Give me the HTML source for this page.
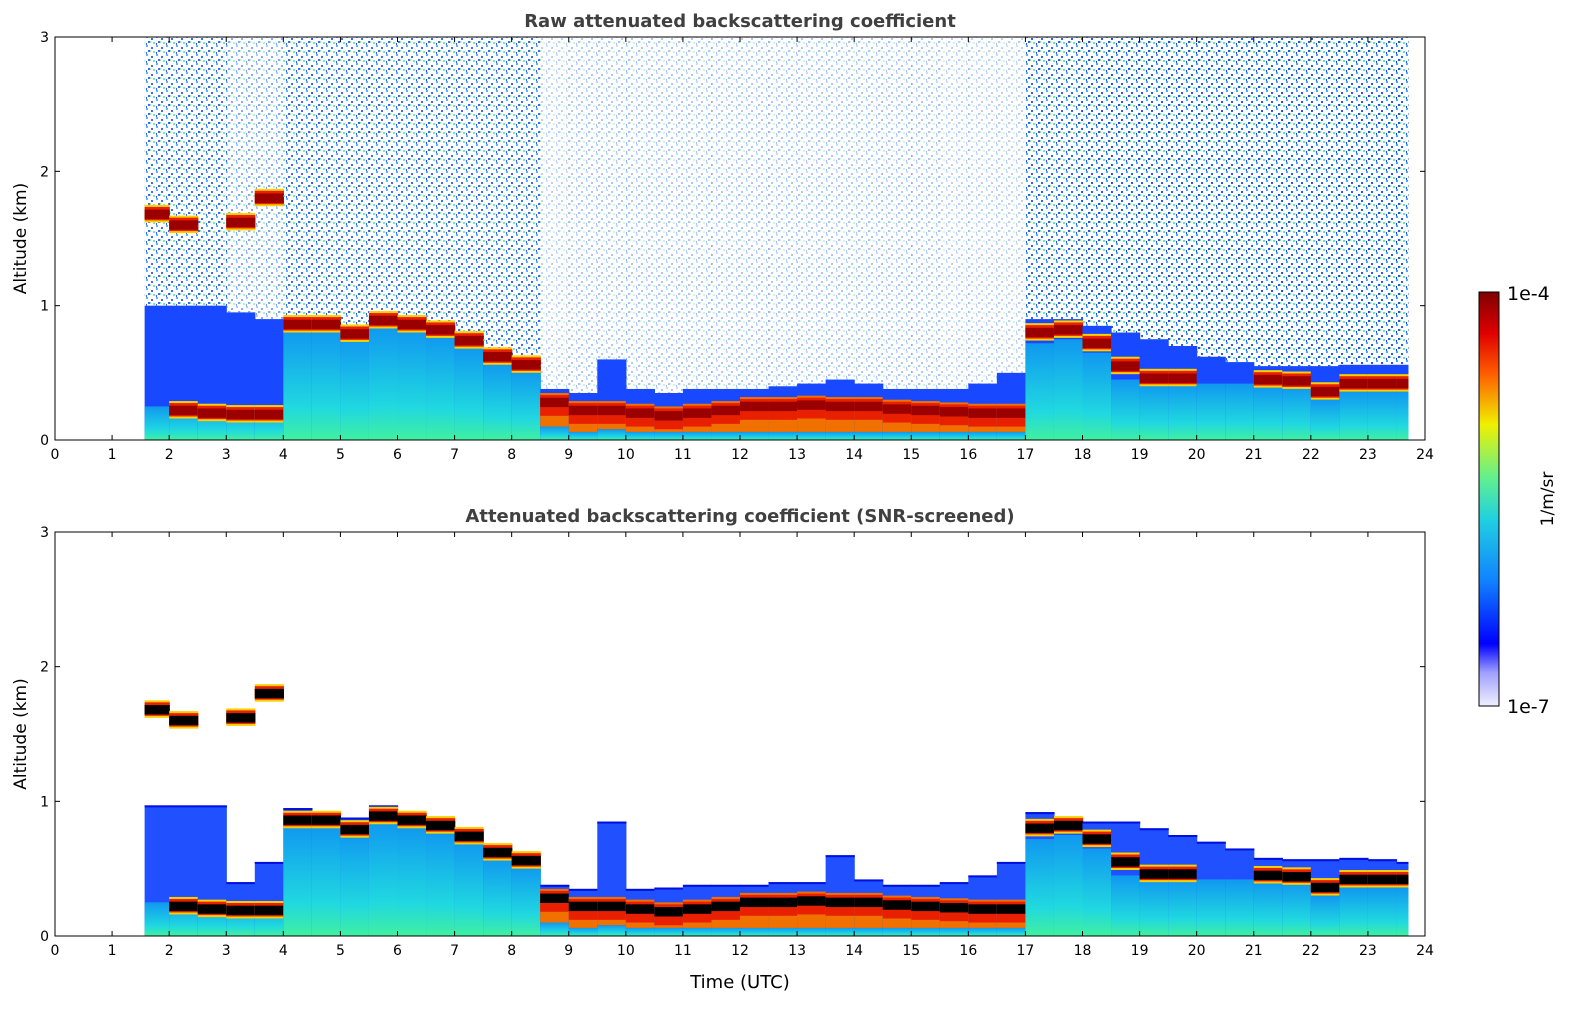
<!DOCTYPE html>
<html><head><meta charset="utf-8">
<style>
body{margin:0;background:#fff;font-family:"Liberation Sans",sans-serif;}
svg text{font-family:"DejaVu Sans","Liberation Sans",sans-serif;}
</style></head>
<body>
<svg id="chart" width="1595" height="1020" xmlns="http://www.w3.org/2000/svg">
<defs>
<pattern id="speck" width="10" height="9" patternUnits="userSpaceOnUse">
<rect x="1" y="2" width="2" height="2" fill="#1030ff"/><rect x="6" y="0" width="2" height="2" fill="#20a0ff"/>
<rect x="8" y="5" width="2" height="2" fill="#1030ff"/><rect x="3" y="6" width="2" height="2" fill="#40e0c0"/>
<rect x="6" y="7" width="1" height="2" fill="#0020ff"/><rect x="0" y="5" width="1" height="2" fill="#60f080"/>
</pattern>
<linearGradient id="cbar" x1="0" y1="1" x2="0" y2="0">
<stop offset="0" stop-color="#f0f0ff"/><stop offset="0.08" stop-color="#a0a0ff"/><stop offset="0.15" stop-color="#0000ff"/>
<stop offset="0.3" stop-color="#1080ff"/><stop offset="0.45" stop-color="#20d0e0"/><stop offset="0.55" stop-color="#60f090"/>
<stop offset="0.68" stop-color="#f0f000"/><stop offset="0.8" stop-color="#ff6000"/><stop offset="0.9" stop-color="#e00000"/>
<stop offset="1" stop-color="#800000"/></linearGradient>
<linearGradient id="cyanG" x1="0" y1="1" x2="0" y2="0"><stop offset="0" stop-color="#40f0a0"/><stop offset="0.3" stop-color="#20d8e0"/><stop offset="1" stop-color="#1098f0"/></linearGradient>
</defs>
<g id="plots"></g>
<g>
<rect x="1479" y="292" width="20" height="414" fill="url(#cbar)" stroke="#000" stroke-width="1"/>
<text x="1507" y="300" font-size="19">1e-4</text>
<text x="1507" y="713" font-size="19">1e-7</text>
<text transform="translate(1553,499) rotate(-90)" text-anchor="middle" font-size="17">1/m/sr</text>
</g>
</svg>
<script>
const times=[1.5,2,2.5,3,3.5,4,4.5,5,5.5,6,6.5,7,7.5,8,8.5,9,9.5,10,10.5,11,11.5,12,12.5,13,13.5,14,14.5,15,15.5,16,16.5,17,17.5,18,18.5,19,19.5,20,20.5,21,21.5,22,22.5,23,23.5];
const cyanTop=[0.25,0.25,0.25,0.25,0.25,0.82,0.82,0.76,0.85,0.82,0.78,0.7,0.58,0.52,0.1,0.06,0.08,0.06,0.06,0.06,0.06,0.06,0.06,0.06,0.06,0.06,0.06,0.06,0.06,0.06,0.06,0.72,0.75,0.65,0.45,0.42,0.42,0.42,0.42,0.4,0.4,0.3,0.36,0.36,0.36];
const lowCloud=[null,0.22,0.2,0.19,0.19,0.86,0.86,0.79,0.89,0.86,0.82,0.74,0.62,0.56,0.28,0.22,0.22,0.2,0.18,0.2,0.22,0.25,0.25,0.26,0.25,0.25,0.23,0.22,0.21,0.2,0.2,0.8,0.82,0.72,0.55,0.46,0.46,null,null,0.45,0.44,0.36,0.42,0.42,0.42];
const upperCloud=[1.68,1.6,null,1.62,1.8,null,null,null,null,null,null,null,null,null,null,null,null,null,null,null,null,null,null,null,null,null,null,null,null,null,null,null,null,null,null,null,null,null,null,null,null,null,null,null,null];
const blueTop=[1.0,1.0,1.0,0.95,0.9,0.92,0.9,0.85,0.95,0.88,0.85,0.78,0.68,0.62,0.38,0.35,0.6,0.38,0.35,0.38,0.38,0.38,0.4,0.42,0.45,0.42,0.38,0.38,0.38,0.42,0.5,0.9,0.9,0.85,0.8,0.75,0.7,0.62,0.58,0.55,0.55,0.55,0.56,0.56,0.56];
const screenedTop=[0.97,0.97,0.97,0.4,0.55,0.95,0.9,0.88,0.97,0.9,0.85,0.78,0.68,0.6,0.38,0.35,0.85,0.35,0.36,0.38,0.38,0.38,0.4,0.4,0.6,0.42,0.38,0.38,0.4,0.45,0.55,0.92,0.88,0.85,0.85,0.8,0.75,0.7,0.65,0.58,0.57,0.57,0.58,0.57,0.55];
const noise=[0.75,0.75,0.75,0.45,0.45,0.75,0.75,0.75,0.75,0.75,0.75,0.75,0.75,0.75,0.25,0.3,0.3,0.3,0.3,0.3,0.3,0.3,0.3,0.3,0.3,0.3,0.3,0.3,0.25,0.25,0.25,0.8,0.8,0.85,0.85,0.85,0.85,0.85,0.85,0.85,0.85,0.85,0.85,0.85,0.85];
const xTicks=[0,1,2,3,4,5,6,7,8,9,10,11,12,13,14,15,16,17,18,19,20,21,22,23,24];
const yTicks=[0,1,2,3];
const tStart=1.57,tEnd=23.7;
const NS="http://www.w3.org/2000/svg";
const root=document.getElementById('plots');
function mk(tag,attrs,parent){const e=document.createElementNS(NS,tag);for(const k in attrs)e.setAttribute(k,attrs[k]);parent.appendChild(e);return e;}
function drawPanel(top,bottom,title,screened,xlabel,key){
  const L=55,R=1425;
  const xs=t=>L+(t/24)*(R-L);
  const ys=a=>bottom-(a/3)*(bottom-top);
  const g=mk('g',{},root);
  
  
  times.forEach((t,i)=>{
    const x0=xs(Math.max(t,tStart)),x1=xs(Math.min(t+0.5,tEnd));const w=x1-x0+0.6;
    if(!screened){
      const n=mk('rect',{x:x0,y:top,width:w,height:ys(blueTop[i])-top,fill:'url(#speck)',opacity:noise[i]},g);
      
      
    }
    const bt=screened?screenedTop[i]:blueTop[i];
    const b=mk('rect',{x:x0,y:ys(bt),width:w,height:ys(0)-ys(bt),fill:screened?'#2050ff':'#1848ff'},g);
    
    
    if(screened){mk('rect',{x:x0,y:ys(bt),width:w,height:2,fill:'#0010e0'},g);}
    const c=mk('rect',{x:x0,y:ys(cyanTop[i]),width:w,height:ys(0)-ys(cyanTop[i]),fill:'url(#cyanG)'},g);
    
    
    [lowCloud[i],upperCloud[i]].forEach(cl=>{
      if(cl==null)return;
      const thick=t>=8.4&&t<17;
      const lo=thick?cyanTop[i]:Math.max(0,cl-0.06);
      mk('rect',{x:x0,y:ys(cl+0.07),width:w,height:ys(lo)-ys(cl+0.07),fill:thick?'#f07000':'#f8d000'},g);
      mk('rect',{x:x0,y:ys(cl+0.055),width:w,height:ys(Math.max(lo,cl-(thick?0.1:0.045)))-ys(cl+0.055),fill:'#e82000'},g);
      const r=mk('rect',{x:x0,y:ys(cl+0.035),width:w,height:ys(cl-0.035)-ys(cl+0.035),fill:screened?'#000':'#9a0000'},g);
      
      
    });
  });
  const ax=mk('rect',{x:L,y:top,width:R-L,height:bottom-top,fill:'none',stroke:'#000','stroke-width':1},g);
  
  
  xTicks.forEach(v=>{
    const x=xs(v);
    mk('line',{x1:x,x2:x,y1:bottom,y2:bottom-5,stroke:'#000'},g);
    mk('line',{x1:x,x2:x,y1:top,y2:top+5,stroke:'#000'},g);
    const tx=mk('text',{x:x,y:bottom+19,'text-anchor':'middle','font-size':14},g);tx.textContent=v;
    
    
  });
  yTicks.forEach(v=>{
    const y=ys(v);
    mk('line',{x1:L,x2:L+5,y1:y,y2:y,stroke:'#000'},g);
    mk('line',{x1:R,x2:R-5,y1:y,y2:y,stroke:'#000'},g);
    const tx=mk('text',{x:L-6,y:y+5,'text-anchor':'end','font-size':14},g);tx.textContent=v;
    
    
  });
  const tt=mk('text',{x:(L+R)/2,y:top-10,'text-anchor':'middle','font-size':18,'font-weight':'bold',fill:'#404040'},g);tt.textContent=title;
  
  
  const yl=mk('text',{transform:`translate(26,${(top+bottom)/2}) rotate(-90)`,'text-anchor':'middle','font-size':17},g);yl.textContent='Altitude (km)';
  
  
  if(xlabel){const xl=mk('text',{x:(L+R)/2,y:bottom+52,'text-anchor':'middle','font-size':18},g);xl.textContent=xlabel;
    
    }
}
drawPanel(37,440,'Raw attenuated backscattering coefficient',false,null,'raw');
drawPanel(532,936,'Attenuated backscattering coefficient (SNR-screened)',true,'Time (UTC)','screened');
</script>
</body></html>
